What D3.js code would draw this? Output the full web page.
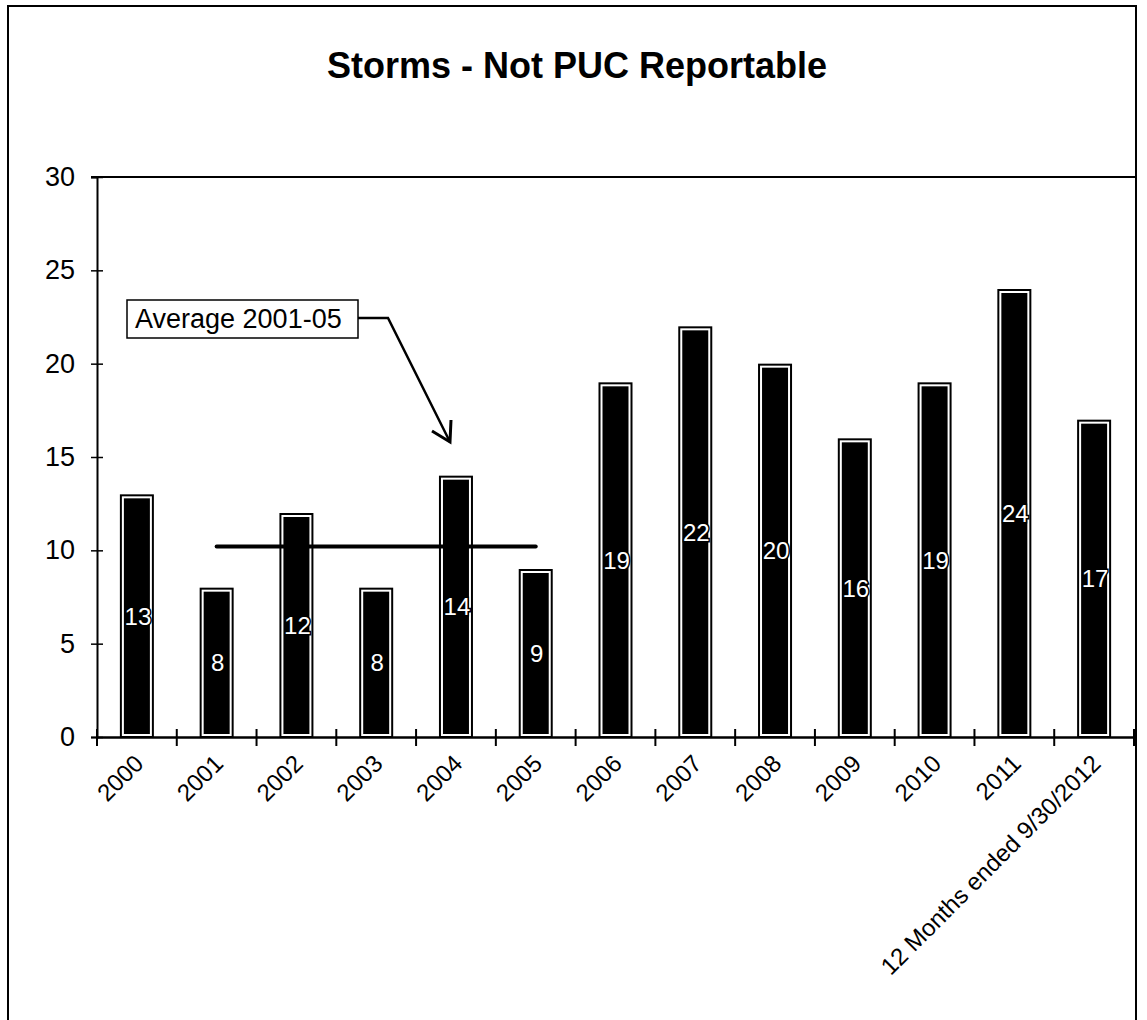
<!DOCTYPE html>
<html><head><meta charset="utf-8">
<script src="https://cdn.jsdelivr.net/npm/d3@7"></script>
<style>
body{margin:0;background:#fff;}
text{font-family:Arial,"Liberation Sans",sans-serif;}
</style></head>
<body><svg id="c" width="1147" height="1020"></svg>
<script>
const categories = ["2000","2001","2002","2003","2004","2005","2006","2007","2008","2009","2010","2011","12 Months ended 9/30/2012"];
const values = [13,8,12,8,14,9,19,22,20,16,19,24,17];
const yTicks = [0,5,10,15,20,25,30];
const averageLabel = "Average 2001-05";
const averageFrom = "2001";
const averageTo = "2005";
const averageValue = 10.2;
const title = "Storms - Not PUC Reportable";

const svg = d3.select("#c");
const m = {left:97, right:1134, top:177, bottom:737};

// outer border
svg.append("rect").attr("x",8).attr("y",6).attr("width",1128).attr("height",1030)
  .attr("fill","#fff").attr("stroke","#000").attr("stroke-width",2);

svg.append("text").attr("x",577).attr("y",78).attr("text-anchor","middle")
  .attr("font-size",36).attr("font-weight","bold").text(title);

const x = d3.scaleBand().domain(categories).range([m.left,m.right]).paddingInner(0).paddingOuter(0);
const y = d3.scaleLinear().domain([0,30]).range([m.bottom,m.top]);

// plot top line
svg.append("line").attr("x1",m.left-6).attr("x2",1136).attr("y1",m.top).attr("y2",m.top)
  .attr("stroke","#000").attr("stroke-width",2);

// y axis
const ya = svg.append("g").attr("transform",`translate(${m.left},0)`)
  .call(d3.axisLeft(y).tickValues(yTicks).tickSize(6).tickPadding(16));
ya.select(".domain").attr("stroke-width",2);
ya.selectAll(".tick line").attr("x2",-6).attr("x1",6).attr("stroke-width",1.5);
ya.selectAll(".tick text").attr("font-size",27).attr("font-family","Arial, Liberation Sans, sans-serif");

// bars
const bw = 34;
const bars = svg.append("g");
categories.forEach((c,i)=>{
  const cx = x(c)+x.bandwidth()/2;
  const top = y(values[i]);
  bars.append("rect").attr("x",cx-bw/2).attr("y",top).attr("width",bw).attr("height",m.bottom-top)
    .attr("fill","#000");
  bars.append("rect").attr("x",cx-bw/2+3).attr("y",top+3).attr("width",bw-6).attr("height",m.bottom-top-5)
    .attr("fill","#000").attr("stroke","#fff").attr("stroke-width",2);
});

// average line
svg.append("line")
  .attr("x1",x(averageFrom)+x.bandwidth()/2).attr("x2",x(averageTo)+x.bandwidth()/2)
  .attr("y1",y(averageValue)).attr("y2",y(averageValue))
  .attr("stroke","#000").attr("stroke-width",4).attr("stroke-linecap","round");

// value labels
categories.forEach((c,i)=>{
  const cx = x(c)+x.bandwidth()/2;
  svg.append("text").attr("x",cx+1).attr("y",y(values[i]/2)+9).attr("text-anchor","middle")
    .attr("font-size",24).attr("fill","#fff")
    .attr("stroke","#000").attr("stroke-width",3).attr("paint-order","stroke")
    .text(values[i]);
});

// x axis
const xa = svg.append("g").attr("transform",`translate(0,${m.bottom})`)
  .call(d3.axisBottom(x).tickSize(0).tickFormat(""));
xa.select(".domain").attr("stroke-width",2.5);
const tickPos = categories.map(c=>x(c)).concat([m.right]);
svg.append("g").selectAll("line").data(tickPos).join("line")
  .attr("x1",d=>d).attr("x2",d=>d).attr("y1",m.bottom-8).attr("y2",m.bottom+9)
  .attr("stroke","#000").attr("stroke-width",2);
svg.append("g").selectAll("text").data(categories).join("text")
  .attr("transform",d=>`translate(${x(d)+x.bandwidth()/2+8},${m.bottom+28}) rotate(-45)`)
  .attr("text-anchor","end").attr("font-size",24).text(d=>d);

// annotation
svg.append("rect").attr("x",127).attr("y",300).attr("width",231).attr("height",38)
  .attr("fill","#fff").attr("stroke","#000").attr("stroke-width",1.5);
svg.append("text").attr("x",135).attr("y",328).attr("font-size",27).text(averageLabel);
svg.append("polyline").attr("points","358,318 388,318 450,442")
  .attr("fill","none").attr("stroke","#000").attr("stroke-width",2.5);
svg.append("polyline").attr("points","432,431 450,442 451,420")
  .attr("fill","none").attr("stroke","#000").attr("stroke-width",3);
</script></body></html>
